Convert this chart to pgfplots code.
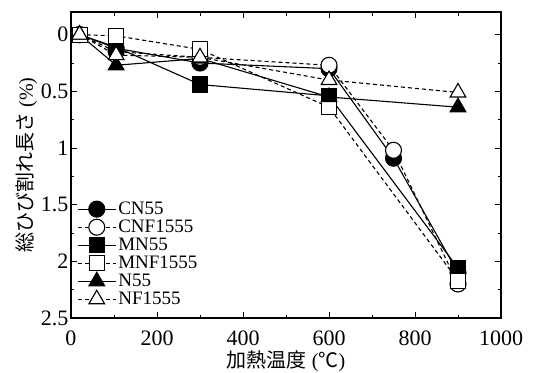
\documentclass[border=0pt]{standalone}
\usepackage{fontspec}
\setmainfont{Liberation Serif}
\newfontfamily\cjk{Noto Sans CJK JP}
\newfontfamily\tlf{Liberation Serif}
\newcommand\tl[1]{\hbox{\tlf\fontsize{22}{24}\selectfont #1}}
\usepackage{pgfplots}
\pgfplotsset{compat=1.18}
\begin{document}
\begin{tikzpicture}
\begin{axis}[
  at={(0,0)}, anchor=south west,
  scale only axis, width=430pt, height=306pt,
  xmin=0, xmax=1000, ymin=-0.2, ymax=2.5, y dir=reverse,
  xtick={0,200,...,1000}, ytick={0,0.5,1,1.5,2,2.5},
  yticklabels={\tl{0},\tl{0.5},\tl{1},\tl{1.5},\tl{2},\tl{2.5}},
  xticklabels={\tl{0},\tl{200},\tl{400},\tl{600},\tl{800},\tl{1000}},
  xticklabel style={yshift=-9pt},
  yticklabel style={xshift=1pt},
  minor x tick num=1, minor y tick num=1,
  tick align=inside, major tick length=6pt, minor tick length=3.5pt,
  axis line style={line width=1.2pt}, tick style={line width=1pt,black},
  /pgf/number format/assume math mode=true,
  xlabel={{\cjk 加熱温度} {\tlf(}{\cjk ℃}{\tlf)}},
  ylabel={{\cjk 総ひび割れ長さ} {\tlf (\%)}},
  label style={font=\fontsize{20}{22}\selectfont},
  xlabel style={yshift=1.5pt},
  ylabel style={yshift=-3pt},
  legend style={draw=none, fill=none, at={(0.014,0.386)}, anchor=north west,
    font=\fontsize{19}{19}\selectfont, inner sep=0pt, row sep=0pt,
    /tikz/every even column/.style={column sep=0pt}},
  legend cell align=left,
  legend image code/.code={\draw[mark repeat=2,mark phase=2,#1] plot coordinates {(0pt,0pt)(19pt,0pt)(38pt,0pt)};},
  every axis plot/.append style={line width=1.1pt, black},
]
\addplot[mark=*, mark size=8pt] coordinates {(20,0)(105,0.12)(300,0.25)(600,0.30)(750,1.09)(900,2.1)};
\addlegendentry{CN55}
\addplot[dash pattern=on 4pt off 3pt, mark=*, mark size=8pt, mark options={solid, fill=white}] coordinates {(20,0)(105,0.15)(300,0.2)(600,0.27)(750,1.02)(900,2.2)};
\addlegendentry{CNF1555}
\addplot[mark=square*, mark size=7.5pt] coordinates {(20,0)(105,0.11)(300,0.44)(600,0.54)(900,2.06)};
\addlegendentry{MN55}
\addplot[dash pattern=on 4pt off 3pt, mark=square*, mark size=7.5pt, mark options={solid, fill=white}] coordinates {(20,0)(105,0.01)(300,0.13)(600,0.64)(900,2.17)};
\addlegendentry{MNF1555}
\addplot[mark=triangle*, mark size=9pt] coordinates {(20,0)(105,0.27)(300,0.21)(600,0.55)(900,0.64)};
\addlegendentry{N55}
\addplot[dash pattern=on 4pt off 3pt, mark=triangle*, mark size=9pt, mark options={solid, fill=white}] coordinates {(20,0)(105,0.18)(300,0.2)(600,0.40)(900,0.51)};
\addlegendentry{NF1555}
\end{axis}
\pgfresetboundingbox
\path[use as bounding box] (-71pt,-54pt) rectangle (463pt,318pt);
\end{tikzpicture}
\end{document}
